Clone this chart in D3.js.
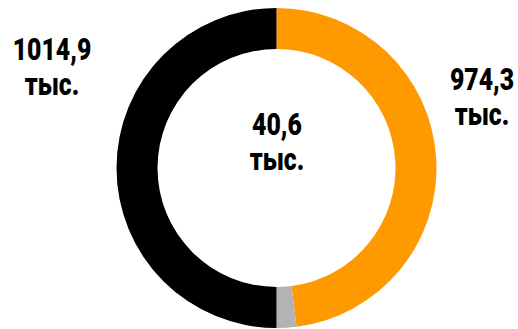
<!DOCTYPE html>
<html>
<head>
<meta charset="utf-8">
<script src="https://cdn.jsdelivr.net/npm/d3@7"></script>
<style>
  html, body { margin: 0; padding: 0; background: #fff; }
  svg { display: block; }
  .lbl { font-family: Roboto, "Liberation Sans", sans-serif; font-weight: 900; fill: #000; }
</style>
</head>
<body>
<div id="chart"></div>
<script>
// значения (тыс.)
const categories = ["orange", "gray", "black"];
const values = [974.3, 40.6, 1014.9];
const valueLabels = ["974,3", "40,6", "1014,9"];
const unitLabel = "тыс.";
const colors = ["#ff9900", "#b3b3b3", "#000000"];

// Layout
const W = 518, H = 329;
const cx = 276.5, cy = 168;
const outerR = 160, innerR = 119;
// позиции подписей (центр текста, базовая линия числа)
const labelPos = [
  { x: 482, y: 90 },
  { x: 277, y: 135 },
  { x: 52, y: 60 }
];
const lineGap = 35;
const fontSize = 31;
const squeeze = 0.8; // узкий шрифт

const svg = d3.select("#chart").append("svg")
  .attr("width", W)
  .attr("height", H);

const g = svg.append("g").attr("transform", `translate(${cx},${cy})`);

const pie = d3.pie().sort(null).value(d => d.value);
const arc = d3.arc().innerRadius(innerR).outerRadius(outerR);

const data = categories.map((c, i) => ({ cat: c, value: values[i], color: colors[i] }));

g.selectAll("path")
  .data(pie(data))
  .enter()
  .append("path")
  .attr("d", arc)
  .attr("fill", d => d.data.color);

// подписи
const lbl = svg.selectAll(".lblGroup")
  .data(data)
  .enter()
  .append("g")
  .attr("class", "lblGroup")
  .attr("transform", (d, i) => `translate(${labelPos[i].x},${labelPos[i].y})`);

lbl.append("text")
  .attr("class", "lbl")
  .attr("transform", `scale(${squeeze},1)`)
  .attr("text-anchor", "middle")
  .style("font-size", fontSize + "px")
  .text((d, i) => valueLabels[i]);

lbl.append("text")
  .attr("class", "lbl")
  .attr("transform", `translate(0,${lineGap}) scale(${squeeze},1)`)
  .attr("text-anchor", "middle")
  .style("font-size", fontSize + "px")
  .text(unitLabel);
</script>
</body>
</html>
